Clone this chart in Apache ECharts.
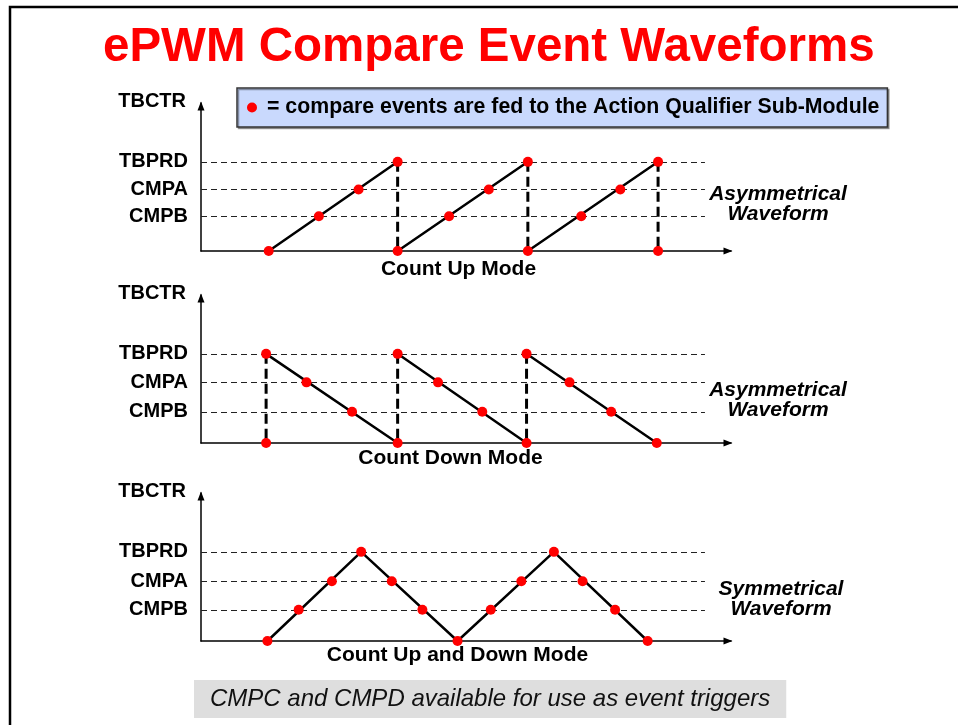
<!DOCTYPE html>
<html>
<head>
<meta charset="utf-8">
<title>ePWM Compare Event Waveforms</title>
<script src="https://cdn.jsdelivr.net/npm/echarts@6/dist/echarts.min.js"></script>
<style>
    html, body {margin: 0; padding: 0; background: #fff;}
    #main {width: 958px; height: 725px;}
</style>
</head>
<body>
<div id="main"></div>
<script>
// counter levels, TBPRD = 100 counts
var levelNames = ['TBPRD', 'CMPA', 'CMPB'];
var upLevels = [100, 69, 39];
var downLevels = [100, 68, 35];
var updownLevels = [100, 67, 35];

// time axis (same units for all three plots)
var timeMax = 407;
var levelEnd = 387;
var counterMax = 166;

var modeNames = ['Count Up Mode', 'Count Down Mode', 'Count Up and Down Mode'];
var shapeNames = ['Asymmetrical\nWaveform', 'Asymmetrical\nWaveform', 'Symmetrical\nWaveform'];

// count up: ramps and the reset drops
var upRamp = [[52, 0], [151, 100], [151, '-'], [151, 0], [251, 100], [251, '-'], [251, 0], [351, 100]];
var upReset = [[151, 100], [151, 0], [151, '-'], [251, 100], [251, 0], [251, '-'], [351, 100], [351, 0]];
var upEvents = [[52, 0], [90.5, 39], [121, 69], [151, 100], [151, 0], [190.5, 39], [221, 69],
    [251, 100], [251, 0], [292, 39], [322, 69], [351, 100], [351, 0]];

// count down
var downRamp = [[50, 100], [151, 0], [151, '-'], [151, 100], [250, 0], [250, '-'], [250, 100], [350, 0]];
var downReset = [[50, 100], [50, 0], [50, '-'], [151, 100], [151, 0], [151, '-'], [250, 100], [250, 0]];
var downEvents = [[50, 100], [50, 0], [81, 68], [116, 35], [151, 0], [151, 100], [182, 68], [216, 35],
    [250, 0], [250, 100], [283, 68], [315, 35], [350, 0]];

// count up and down
var updownWave = [[51, 0], [123, 100], [197, 0], [271, 100], [343, 0]];
var updownEvents = [[51, 0], [75, 35], [100.5, 67], [123, 100], [146.5, 67], [170, 35], [197, 0],
    [222.5, 35], [246, 67], [271, 100], [293, 67], [318, 35], [343, 0]];

var LEGEND_NAME = '= compare events are fed to the Action Qualifier Sub-Module';
var FONT = "'Liberation Sans', Arial, Helvetica, sans-serif";

var gridTops = [103, 295, 493];
var nameGaps = [8, 5, 4];
var namePads = [15, 31, 17];
var topLifts = [10, 5, 7];

function levelLines(levels, lift) {
    return {
        silent: true,
        symbol: ['none', 'none'],
        lineStyle: {color: '#222', width: 1, type: [6, 4]},
        label: {
            position: 'start',
            distance: 13,
            formatter: '{b}',
            color: '#000',
            fontSize: 20,
            fontWeight: 'bold',
            fontFamily: FONT
        },
        data: levels.map(function (v, k) {
            var item = {name: levelNames[k], coord: [0, v]};
            if (k === 0) {
                item.label = {padding: [0, 0, lift * 2, 0]};
            }
            return [item, {coord: [levelEnd, v]}];
        })
    };
}

var grids = [], xAxes = [], yAxes = [], series = [], graphics = [];

for (var i = 0; i < 3; i++) {
    grids.push({left: 201, top: gridTops[i], width: 530, height: 148, outerBoundsMode: 'none'});
    xAxes.push({
        gridIndex: i,
        type: 'value',
        min: 0,
        max: timeMax,
        axisLine: {
            lineStyle: {color: '#000', width: 1.5},
            symbol: ['none', 'triangle'],
            symbolSize: [7, 9],
            symbolOffset: [0, -3]
        },
        axisTick: {show: false},
        axisLabel: {show: false},
        splitLine: {show: false},
        name: modeNames[i],
        nameLocation: 'middle',
        nameGap: nameGaps[i],
        nameTextStyle: {
            color: '#000', fontSize: 21, fontWeight: 'bold', fontFamily: FONT,
            padding: [0, namePads[i], 0, 0]
        }
    });
    yAxes.push({
        gridIndex: i,
        type: 'value',
        min: 0,
        max: counterMax,
        axisLine: {
            lineStyle: {color: '#000', width: 1.5},
            symbol: ['none', 'triangle'],
            symbolSize: [7, 9],
            symbolOffset: [0, -3]
        },
        axisTick: {show: false},
        axisLabel: {show: false},
        splitLine: {show: false},
        name: 'TBCTR',
        nameLocation: 'end',
        nameGap: 2,
        nameTextStyle: {
            color: '#000', fontSize: 20, fontWeight: 'bold', fontFamily: FONT,
            align: 'right', verticalAlign: 'middle', padding: [0, 15, 0, 0]
        }
    });
    graphics.push({
        type: 'text',
        x: i === 2 ? 781 : 778,
        y: [204, 400, 599][i],
        silent: true,
        style: {
            text: shapeNames[i],
            align: 'center',
            verticalAlign: 'middle',
            font: "italic bold 21px " + FONT,
            lineHeight: 20,
            fill: '#000'
        }
    });
}

var waves = [upRamp, downRamp, updownWave];
var resets = [upReset, downReset, null];
var events = [upEvents, downEvents, updownEvents];
var levels = [upLevels, downLevels, updownLevels];

for (var j = 0; j < 3; j++) {
    series.push({
        type: 'line',
        xAxisIndex: j,
        yAxisIndex: j,
        data: waves[j],
        showSymbol: false,
        silent: true,
        lineStyle: {color: '#000', width: 2.5},
        z: 3,
        markLine: levelLines(levels[j], topLifts[j])
    });
    if (resets[j]) {
        series.push({
            type: 'line',
            xAxisIndex: j,
            yAxisIndex: j,
            data: resets[j],
            showSymbol: false,
            silent: true,
            lineStyle: {color: '#000', width: 3, type: [10, 5]},
            z: 3
        });
    }
    series.push({
        type: 'scatter',
        name: LEGEND_NAME,
        xAxisIndex: j,
        yAxisIndex: j,
        data: events[j],
        symbolSize: 10,
        silent: true,
        itemStyle: {color: '#ff0000', opacity: 1},
        z: 5
    });
}

graphics.push({
    type: 'polyline',
    silent: true,
    shape: {points: [[10, 725], [10, 7], [958, 7]]},
    style: {stroke: '#000', lineWidth: 2.5, fill: null}
});

var myChart = echarts.init(document.getElementById('main'));
var option = {
    animation: false,
    backgroundColor: '#fff',
    title: [
        {
            text: 'ePWM Compare Event Waveforms',
            left: 103,
            top: 24,
            padding: 0,
            textStyle: {color: '#ff0000', fontSize: 47.5, fontWeight: 'bold', fontFamily: FONT}
        },
        {
            text: 'CMPC and CMPD available for use as event triggers',
            left: 194,
            top: 680,
            padding: [7, 16],
            backgroundColor: '#dedede',
            textStyle: {color: '#111', fontSize: 24, fontWeight: 'normal', fontStyle: 'italic', fontFamily: FONT}
        }
    ],
    legend: {
        data: [LEGEND_NAME],
        left: 237,
        top: 88,
        selectedMode: false,
        icon: 'circle',
        itemWidth: 20,
        itemHeight: 10,
        padding: [9, 8, 9, 10],
        backgroundColor: '#c9d9fd',
        borderColor: '#333',
        borderWidth: 1.5,
        shadowColor: 'rgba(0,0,0,0.35)',
        shadowOffsetX: 1.5,
        shadowOffsetY: 1.5,
        textStyle: {color: '#000', fontSize: 21.3, fontWeight: 'bold', fontFamily: FONT}
    },
    grid: grids,
    xAxis: xAxes,
    yAxis: yAxes,
    series: series,
    graphic: graphics
};
myChart.setOption(option);
</script>
</body>
</html>
